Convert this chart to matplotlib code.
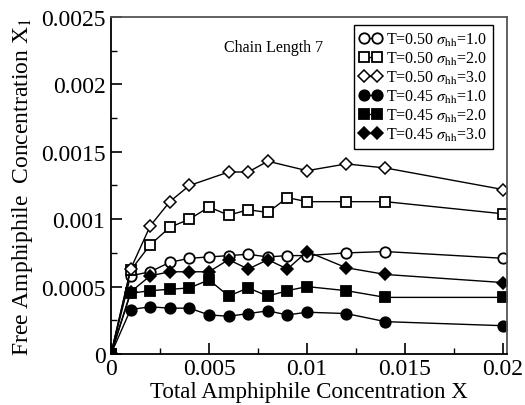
import numpy as np
import matplotlib
matplotlib.use('Agg')
import matplotlib.pyplot as plt
from matplotlib.ticker import MultipleLocator

plt.rcParams['font.family'] = ['Liberation Serif', 'DejaVu Serif']
plt.rcParams['mathtext.fontset'] = 'stix'

x_full = [0, 0.001, 0.002, 0.003, 0.004, 0.005, 0.006, 0.007, 0.008, 0.009, 0.010, 0.012, 0.014, 0.020]
x_diam = [0, 0.001, 0.002, 0.003, 0.004, 0.006, 0.007, 0.008, 0.010, 0.012, 0.014, 0.020]

# T=0.50
y_050_s1 = [0, 0.00058, 0.00061, 0.00068, 0.00071, 0.00072, 0.00073, 0.00074, 0.00072, 0.00073, 0.00073, 0.00075, 0.00076, 0.00071]
y_050_s2 = [0, 0.00062, 0.00081, 0.00094, 0.00100, 0.00109, 0.00103, 0.00107, 0.00105, 0.00116, 0.00113, 0.00113, 0.00113, 0.00104]
y_050_s3 = [0, 0.00063, 0.00095, 0.00113, 0.00125, 0.00135, 0.00135, 0.00143, 0.00136, 0.00141, 0.00138, 0.00122]
# T=0.45
y_045_s1 = [0, 0.00033, 0.00035, 0.00034, 0.00034, 0.00029, 0.00028, 0.00030, 0.00032, 0.00029, 0.00031, 0.00030, 0.00024, 0.00021]
y_045_s2 = [0, 0.00045, 0.00047, 0.00048, 0.00049, 0.00055, 0.00043, 0.00049, 0.00043, 0.00047, 0.00050, 0.00047, 0.00042, 0.00042]
y_045_s3 = [0, 0.00046, 0.00058, 0.00061, 0.00061, 0.00061, 0.00070, 0.00063, 0.00070, 0.00063, 0.00076, 0.00064, 0.00059, 0.00053]

fig = plt.figure(figsize=(5.25, 4.06), dpi=100)
ax = fig.add_axes([0.2114, 0.1256, 0.7543, 0.8301])

ms = 7.5
kw = dict(color='black', lw=1.0, markeredgewidth=1.3, markersize=ms)
ax.plot(x_full, y_050_s1, marker='o', mfc='white', label=r'T=0.50 $\sigma_{\rm hh}$=1.0', **kw)
ax.plot(x_full, y_050_s2, marker='s', mfc='white', label=r'T=0.50 $\sigma_{\rm hh}$=2.0', **kw)
ax.plot(x_diam, y_050_s3, marker='D', mfc='white', label=r'T=0.50 $\sigma_{\rm hh}$=3.0',
        color='black', lw=1.0, markeredgewidth=1.1, markersize=6)
ax.plot(x_full, y_045_s1, marker='o', mfc='black', label=r'T=0.45 $\sigma_{\rm hh}$=1.0', **kw)
ax.plot(x_full, y_045_s2, marker='s', mfc='black', label=r'T=0.45 $\sigma_{\rm hh}$=2.0', **kw)
ax.plot(x_full, y_045_s3, marker='D', mfc='black', label=r'T=0.45 $\sigma_{\rm hh}$=3.0',
        color='black', lw=1.0, markeredgewidth=1.1, markersize=6)

ax.set_xlim(0, 0.0202)
ax.set_ylim(0, 0.0025)
ax.xaxis.set_minor_locator(MultipleLocator(0.0025))
ax.yaxis.set_minor_locator(MultipleLocator(0.00025))
ax.set_xticks([0, 0.005, 0.01, 0.015, 0.02])
ax.set_xticklabels(['0', '0.005', '0.01', '0.015', '0.02'])
ax.set_yticks([0, 0.0005, 0.001, 0.0015, 0.002, 0.0025])
ax.set_yticklabels(['0', '0.0005', '0.001', '0.0015', '0.002', '0.0025'])
ax.tick_params(which='both', direction='in', labelsize=17, top=False, right=False)
ax.tick_params(which='major', length=8, width=1.2)
ax.tick_params(which='minor', length=4, width=1.0)
ax.tick_params(axis='y', pad=4)
ax.tick_params(axis='x', pad=3)
for s in ax.spines.values():
    s.set_linewidth(1.3)
ax.spines['top'].set_color('#555555')
ax.spines['right'].set_color('#555555')

ax.set_xlabel('Total Amphiphile Concentration X', fontsize=16.5, labelpad=1)
ax.set_ylabel('Free Amphiphile  Concentration X$_1$', fontsize=17, labelpad=4)

ax.text(0.285, 0.90, 'Chain Length 7', transform=ax.transAxes, fontsize=11.5)

leg = ax.legend(loc='upper right', bbox_to_anchor=(0.965, 0.975), numpoints=2, fontsize=11.5,
                frameon=True, fancybox=False, edgecolor='black', framealpha=1,
                handlelength=1.4, handletextpad=0.3, labelspacing=0.12, borderpad=0.35,
                borderaxespad=0)
leg.get_frame().set_linewidth(1.0)

fig.savefig('out.png', dpi=100)
